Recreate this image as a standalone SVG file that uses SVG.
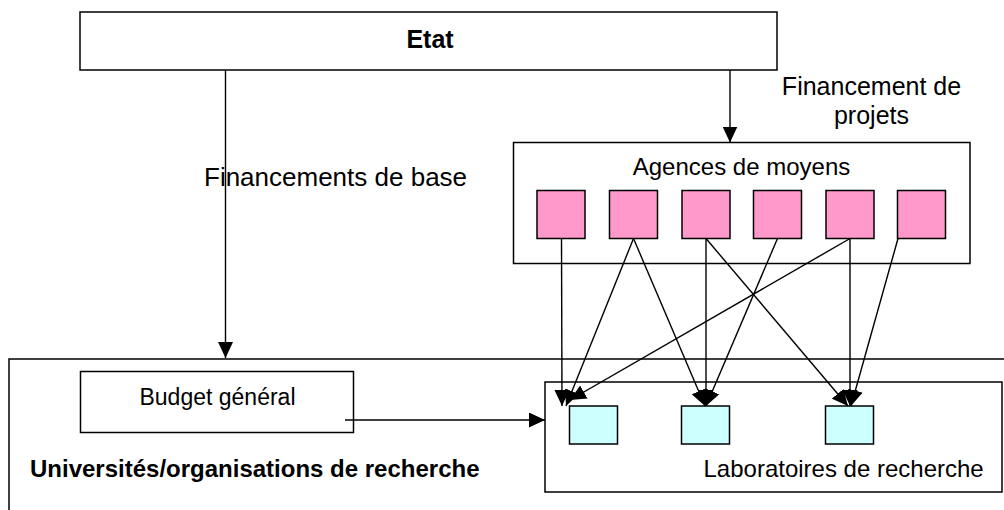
<svg xmlns="http://www.w3.org/2000/svg" width="1004" height="510" viewBox="0 0 1004 510">
<style>
.box{fill:#fff;stroke:#000;stroke-width:1.5}
.pink{fill:#FF99CC;stroke:#000;stroke-width:1.5}
.cyan{fill:#CCFFFF;stroke:#000;stroke-width:1.5}
.t{font-family:"Liberation Sans",Arial,sans-serif;fill:#000}
.b{font-weight:bold}
.c{fill:none;stroke:#000;stroke-width:1.4}
</style>
<defs>
<marker id="ah" markerUnits="userSpaceOnUse" markerWidth="17" markerHeight="15" refX="16" refY="7.5" orient="auto">
<path d="M0,0 L16,7.5 L0,15 z" fill="#000"/>
</marker>
</defs>
<rect width="1004" height="510" fill="#fff"/>
<g id="universites">
<rect class="box" x="9" y="359" width="1010" height="170"/>
<text class="t b" x="30" y="477" font-size="24">Universités/organisations de recherche</text>
</g>
<g id="etat">
<rect class="box" x="80" y="12" width="697" height="58"/>
<text class="t b" x="430" y="48" font-size="25" text-anchor="middle">Etat</text>
</g>
<g id="agences">
<rect class="box" x="513.5" y="142.5" width="456.5" height="121"/>
<text class="t" x="741.5" y="175" font-size="24" text-anchor="middle">Agences de moyens</text>
<rect class="pink" x="537" y="190.5" width="48" height="48"/>
<rect class="pink" x="609.5" y="190.5" width="48" height="48"/>
<rect class="pink" x="682" y="190.5" width="48" height="48"/>
<rect class="pink" x="753.5" y="190.5" width="48" height="48"/>
<rect class="pink" x="826" y="190.5" width="48" height="48"/>
<rect class="pink" x="897.5" y="190.5" width="48" height="48"/>
</g>
<g id="budget">
<rect class="box" x="80.5" y="371.5" width="273" height="61"/>
<text class="t" x="217.5" y="405" font-size="23" text-anchor="middle">Budget général</text>
</g>
<g id="laboratoires">
<rect class="box" x="545" y="382" width="457" height="110"/>
<rect class="cyan" x="569.5" y="406" width="48" height="38"/>
<rect class="cyan" x="681.5" y="406" width="48" height="38"/>
<rect class="cyan" x="825.5" y="406" width="48" height="38"/>
<text class="t" x="703.5" y="477" font-size="24">Laboratoires de recherche</text>
</g>
<g id="labels">
<text class="t" x="204" y="186" font-size="26">Financements de base</text>
<text class="t" x="871.5" y="95" font-size="25" text-anchor="middle">Financement de</text>
<text class="t" x="871.5" y="124" font-size="25" text-anchor="middle">projets</text>
</g>
<g id="connectors">
<line class="c" x1="225.5" y1="70" x2="225.5" y2="358" marker-end="url(#ah)"/>
<line class="c" x1="730" y1="70" x2="730" y2="142.5" marker-end="url(#ah)"/>
<line class="c" x1="345" y1="420" x2="545" y2="420" marker-end="url(#ah)"/>
<line class="c" x1="561.5" y1="238.5" x2="562" y2="406" marker-end="url(#ah)"/>
<line class="c" x1="633.5" y1="238.5" x2="566" y2="406" marker-end="url(#ah)"/>
<line class="c" x1="633.5" y1="238.5" x2="705" y2="406" marker-end="url(#ah)"/>
<line class="c" x1="706" y1="238.5" x2="706" y2="406" marker-end="url(#ah)"/>
<line class="c" x1="706" y1="238.5" x2="848" y2="406" marker-end="url(#ah)"/>
<line class="c" x1="777.5" y1="238.5" x2="706" y2="406" marker-end="url(#ah)"/>
<line class="c" x1="850" y1="238.5" x2="570" y2="400" marker-end="url(#ah)"/>
<line class="c" x1="850" y1="238.5" x2="850" y2="406" marker-end="url(#ah)"/>
<line class="c" x1="898" y1="238.5" x2="851" y2="406" marker-end="url(#ah)"/>
</g>
</svg>
